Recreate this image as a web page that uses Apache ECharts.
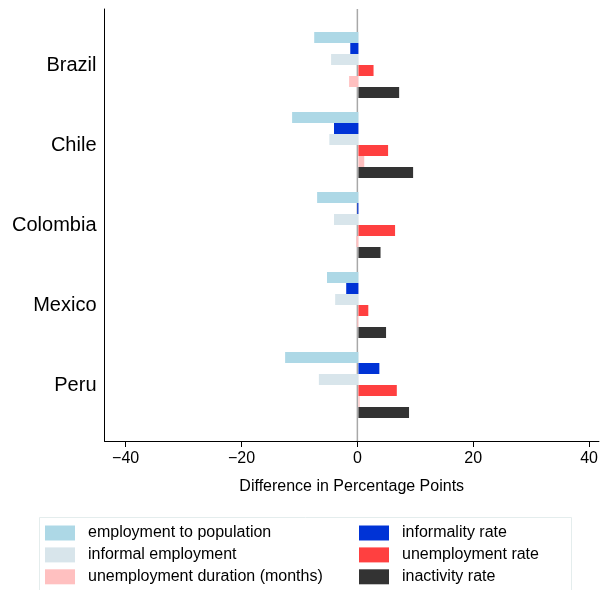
<!DOCTYPE html>
<html>
<head>
<meta charset="utf-8">
<script src="https://cdn.jsdelivr.net/npm/echarts@6/dist/echarts.min.js"></script>
<style>
html, body { margin: 0; padding: 0; background: #fff; }
#main { width: 601px; height: 590px; }
</style>
</head>
<body>
<div id="main"></div>
<script>
var countries = ['Brazil', 'Chile', 'Colombia', 'Mexico', 'Peru'];

var empToPop      = [-7.6, -11.4, -7.1, -5.4, -12.6];
var informality   = [-1.4, -4.2, -0.2, -2.1, 3.6];
var informalEmp   = [-4.7, -5.0, -4.2, -4.0, -6.8];
var unempRate     = [2.6, 5.1, 6.3, 1.7, 6.6];
var unempDuration = [-1.6, 1.0, -0.35, -0.2, 0.2];
var inactivity    = [7.0, 9.4, 3.8, 4.75, 8.7];

var xTicks = [-40, -20, 0, 20, 40];
var xMin = -43.65, xMax = 41.7;

var names = {
  emp: 'employment to population',
  inf: 'informality rate',
  infEmp: 'informal employment',
  unemp: 'unemployment rate',
  dur: 'unemployment duration (months)',
  inact: 'inactivity rate'
};

var font = 'Liberation Sans, Arial, Helvetica, sans-serif';

function bar(name, data, color) {
  return {
    name: name,
    type: 'bar',
    xAxisIndex: 1,
    yAxisIndex: 1,
    data: data,
    barWidth: 11,
    barGap: '0%',
    itemStyle: { color: color },
    z: 3
  };
}

function legendCol(left, data) {
  return {
    orient: 'vertical', left: left, top: 520, height: 80,
    itemWidth: 30, itemHeight: 15, itemGap: 5.9, icon: 'rect',
    textStyle: { fontSize: 16, color: '#000', fontFamily: font, padding: [0, 0, 0, 8] },
    data: data
  };
}

var chart = echarts.init(document.getElementById('main'));

var option = {
  animation: false,
  backgroundColor: '#fff',
  textStyle: { fontFamily: font },
  grid: [
    { left: 104.5, right: 0, top: 9, bottom: 149 },
    { left: 104.5, right: 0, top: 25, height: 400 }
  ],
  xAxis: [
    {
      type: 'value', gridIndex: 0, min: xMin, max: xMax,
      axisLine: { show: true, onZero: false, lineStyle: { color: '#000', width: 1 } },
      axisTick: { show: true, length: 6, customValues: xTicks, lineStyle: { color: '#000' } },
      axisLabel: {
        customValues: xTicks, color: '#000', fontSize: 16, fontFamily: font, margin: 10,
        formatter: function (v) { return String(v).replace('-', '\u2212'); }
      },
      splitLine: { show: false },
      name: 'Difference in Percentage Points',
      nameLocation: 'middle',
      nameGap: 38,
      nameTextStyle: { color: '#000', fontSize: 16, fontFamily: font }
    },
    {
      type: 'value', gridIndex: 1, min: xMin, max: xMax, show: false
    }
  ],
  yAxis: [
    {
      type: 'value', gridIndex: 0, min: 0, max: 1,
      axisLine: { show: true, onZero: false, lineStyle: { color: '#000', width: 1 } },
      axisTick: { show: false }, axisLabel: { show: false }, splitLine: { show: false }
    },
    {
      type: 'category', gridIndex: 1, data: countries, inverse: true,
      axisLine: { show: false }, axisTick: { show: false },
      axisLabel: { color: '#000', fontSize: 20, fontFamily: font, margin: 8 }
    }
  ],
  legend: [
    legendCol(40, [names.emp, names.infEmp, names.dur]),
    legendCol(354, [names.inf, names.unemp, names.inact])
  ],
  graphic: [
    {
      type: 'rect', left: 37, top: 515,
      shape: { width: 532, height: 80 },
      style: { fill: 'none', stroke: '#e4eded', lineWidth: 1 }
    }
  ],
  series: [
    {
      type: 'line', xAxisIndex: 0, yAxisIndex: 0,
      data: [[0, 0], [0, 1]], symbol: 'none', silent: true,
      lineStyle: { color: '#a8a8a8', width: 1.5 }, z: 1
    },
    bar(names.emp, empToPop, '#add8e6'),
    bar(names.inf, informality, '#0033d6'),
    bar(names.infEmp, informalEmp, '#d8e5eb'),
    bar(names.unemp, unempRate, '#ff4040'),
    bar(names.dur, unempDuration, '#ffc0c0'),
    bar(names.inact, inactivity, '#333333')
  ]
};

chart.setOption(option);
</script>
</body>
</html>
